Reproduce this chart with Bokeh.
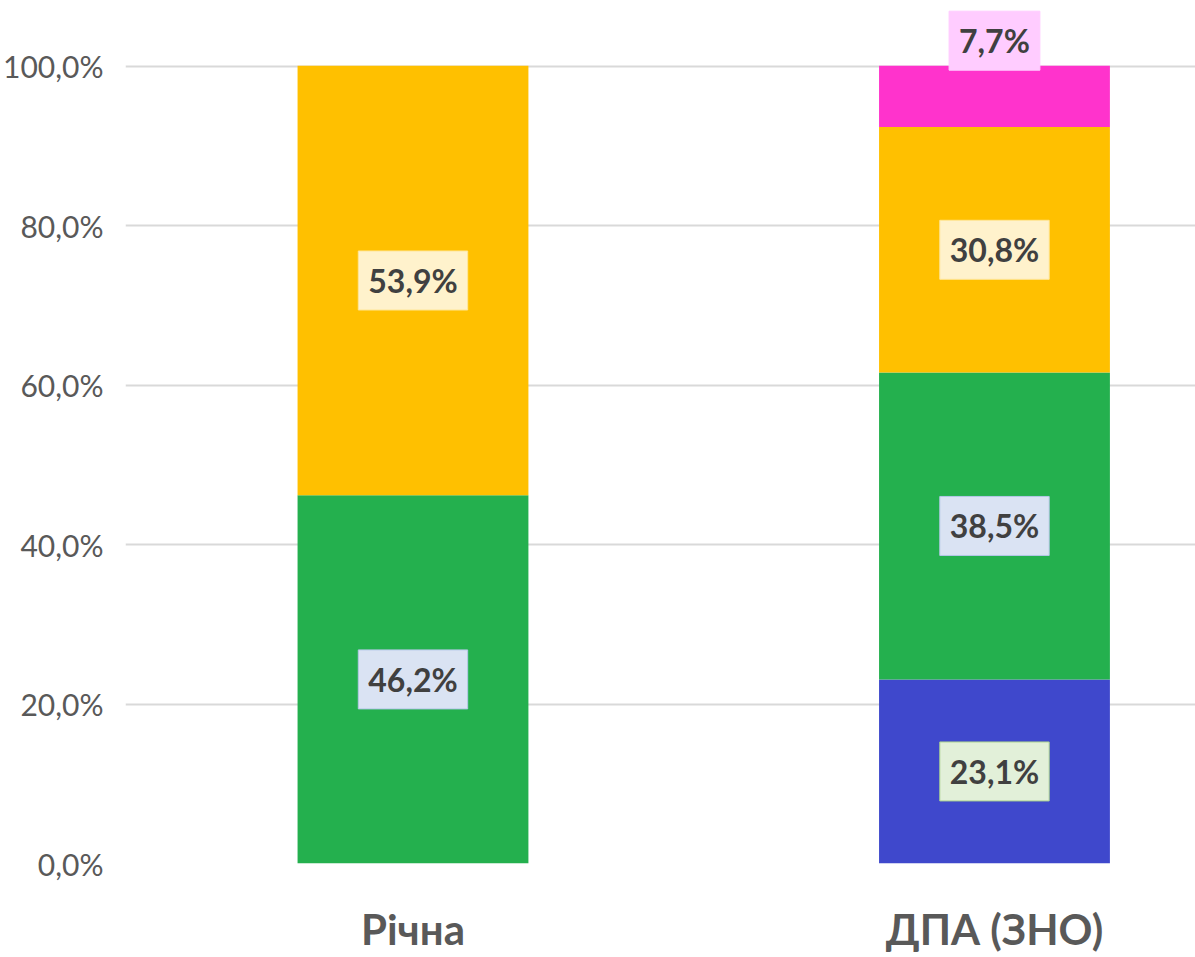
from bokeh.plotting import figure
from bokeh.models import ColumnDataSource, Range1d, FixedTicker, Label
from bokeh.embed import file_html
from bokeh.resources import INLINE

# ---- data ----
categories = ["Річна", "ДПА (ЗНО)"]
series_names = ["s1", "s2", "s3", "s4"]
s1_vals = [0.0, 23.1]
s2_vals = [46.2, 38.5]
s3_vals = [53.9, 30.8]
s4_vals = [0.0, 7.7]
y_ticks = [0, 20, 40, 60, 80, 100]
y_tick_labels = ["0,0%", "20,0%", "40,0%", "60,0%", "80,0%", "100,0%"]

# ---- styles ----
bar_colors = ["#3F48CC", "#24B04E", "#FFC000", "#FF33CC"]
label_bg = ["#E2F0D9", "#DAE3F3", "#FFF2CC", "#FFCCFF"]
label_border = ["#A9D18E", "#B4C7E7", "#FFE699", "#FFCCFF"]
label_on_top = [False, False, False, True]

xs = list(range(len(categories)))
data = {"x": xs}
all_vals = [s1_vals, s2_vals, s3_vals, s4_vals]
for name, vals in zip(series_names, all_vals):
    data[name] = vals
source = ColumnDataSource(data)

p = figure(width=1195, height=957,
           x_range=Range1d(-0.4944, 1.3457), y_range=Range1d(0, 108.28),
           output_backend="svg", toolbar_location=None,
           min_border_left=0, min_border_right=0, min_border_top=0, min_border_bottom=94)
p.outline_line_color = None
p.background_fill_color = "white"
p.border_fill_color = "white"

p.vbar_stack(series_names, x="x", width=0.397, color=bar_colors, line_color=None, source=source)

# labels
cum = [0.0] * len(categories)
for si, vals in enumerate(all_vals):
    for ci, v in enumerate(vals):
        if v > 0:
            if label_on_top[si]:
                yy = cum[ci] + v
                yoff = 25
            else:
                yy = cum[ci] + v / 2.0
                yoff = 0
            txt = ("%.1f" % v).replace(".", ",") + "%"
            lab = Label(x=xs[ci], y=yy, y_offset=yoff, text=txt,
                        text_align="center", text_baseline="middle",
                        text_font="Lato", text_font_style="bold", text_font_size="32px",
                        text_color="#404040",
                        background_fill_color=label_bg[si],
                        border_line_color=label_border[si], border_line_width=1,
                        padding=10)
            p.add_layout(lab)
        cum[ci] += v

# axes
p.xaxis.ticker = FixedTicker(ticks=xs)
p.xaxis.major_label_overrides = {x: c for x, c in zip(xs, categories)}
p.xaxis.major_label_text_font = "Lato"
p.xaxis.major_label_text_font_style = "bold"
p.xaxis.major_label_text_font_size = "42px"
p.xaxis.major_label_text_color = "#595959"
p.xaxis.major_label_standoff = 34
p.xaxis.axis_line_color = None
p.xaxis.major_tick_line_color = None
p.xaxis.minor_tick_line_color = None

p.yaxis.ticker = FixedTicker(ticks=y_ticks)
p.yaxis.major_label_overrides = {t: l for t, l in zip(y_ticks, y_tick_labels)}
p.yaxis.major_label_text_font = "Lato"
p.yaxis.major_label_text_font_size = "30px"
p.yaxis.major_label_text_color = "#595959"
p.yaxis.major_label_standoff = 16
p.yaxis.axis_line_color = None
p.yaxis.major_tick_line_color = None
p.yaxis.minor_tick_line_color = None

p.xgrid.grid_line_color = None
p.ygrid.grid_line_color = "#D9D9D9"
p.ygrid.grid_line_width = 2

open("out.html", "w").write(file_html(p, INLINE))
